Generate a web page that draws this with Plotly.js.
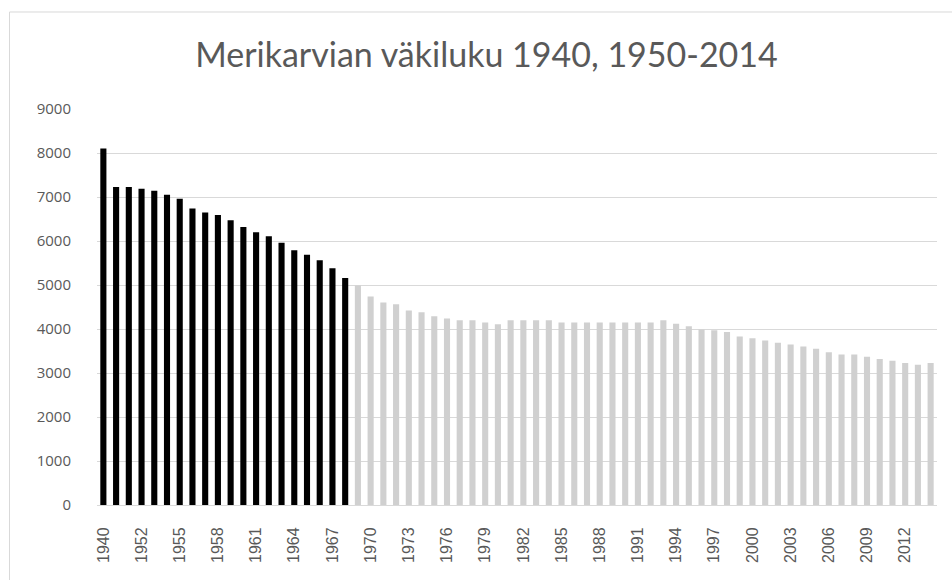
<!DOCTYPE html>
<html>
<head>
<meta charset="utf-8">
<script src="https://cdn.plot.ly/plotly-3.0.1.min.js"></script>
<style>html,body{margin:0;padding:0;background:#fff;}#chart{width:952px;height:580px;}</style>
</head>
<body>
<div id="chart"></div>
<script>
// Years: 1940, then 1950-2014
const years = ["1940","1950","1951","1952","1953","1954","1955","1956","1957","1958","1959",
"1960","1961","1962","1963","1964","1965","1966","1967","1968","1969",
"1970","1971","1972","1973","1974","1975","1976","1977","1978","1979",
"1980","1981","1982","1983","1984","1985","1986","1987","1988","1989",
"1990","1991","1992","1993","1994","1995","1996","1997","1998","1999",
"2000","2001","2002","2003","2004","2005","2006","2007","2008","2009",
"2010","2011","2012","2013","2014"];
const population = [8100,7230,7230,7190,7140,7050,6960,6740,6650,6590,6470,
6320,6200,6110,5960,5790,5690,5560,5380,5160,4990,
4740,4600,4560,4420,4380,4290,4240,4200,4200,4150,
4110,4200,4200,4200,4200,4150,4150,4150,4150,4150,
4150,4150,4150,4200,4120,4060,3990,3970,3930,3830,
3790,3740,3690,3650,3600,3550,3470,3420,3420,3370,
3320,3280,3230,3190,3230];
// years up to 1968 drawn black, after that light grey
const lastBlackYear = "1968";
const tickYears = ["1940","1952","1955","1958","1961","1964","1967","1970","1973","1976","1979",
"1982","1985","1988","1991","1994","1997","2000","2003","2006","2009","2012"];
const yTicks = [0,1000,2000,3000,4000,5000,6000,7000,8000,9000];

const cut = years.indexOf(lastBlackYear) + 1;
const colors = years.map((y,i) => i < cut ? "#000000" : "#d0d0d0");

const L = 97, R = 15, T = 108.6, B = 75, W = 952, H = 580;
const pw = W - L - R, ph = H - T - B;
const px2x = p => (p - L) / pw;
const py2y = p => (H - B - p) / ph;

const trace = {
  type: "bar",
  x: years,
  y: population,
  marker: {color: colors, line: {width: 0}},
  hoverinfo: "x+y"
};

const layout = {
  width: W, height: H,
  margin: {l: L, r: R, t: T, b: B},
  paper_bgcolor: "#ffffff",
  plot_bgcolor: "#ffffff",
  showlegend: false,
  bargap: 0.52,
  title: {
    text: "Merikarvian väkiluku 1940, 1950-2014",
    font: {family: "Lato", size: 34, color: "#595959", weight: 400},
    x: 0.511, xref: "container", xanchor: "center",
    y: 1 - 55/580, yref: "container", yanchor: "middle"
  },
  xaxis: {
    type: "category",
    tickmode: "array",
    tickvals: tickYears,
    ticktext: tickYears,
    tickangle: -90,
    tickfont: {family: "Liberation Sans", size: 16, color: "#595959"},
    showgrid: false,
    showline: false,
    ticks: "outside",
    ticklen: 15,
    tickcolor: "rgba(0,0,0,0)",
    zeroline: false
  },
  yaxis: {
    range: [0, 9000],
    tickmode: "array",
    tickvals: yTicks,
    ticktext: yTicks.map(String),
    tickfont: {family: "Open Sans", size: 15, color: "#595959"},
    gridcolor: "#d9d9d9",
    gridwidth: 1,
    zeroline: true,
    zerolinecolor: "#d9d9d9",
    zerolinewidth: 1,
    showline: false,
    ticks: "outside",
    ticklen: 22,
    tickcolor: "rgba(0,0,0,0)"
  },
  shapes: [{
    type: "rect", xref: "paper", yref: "paper",
    x0: px2x(9.5), x1: px2x(970), y0: py2y(600), y1: py2y(11.5),
    line: {color: "#d9d9d9", width: 1}, fillcolor: "rgba(0,0,0,0)", layer: "below"
  }]
};

Plotly.newPlot("chart", [trace], layout, {displayModeBar: false, staticPlot: true});
</script>
</body>
</html>
